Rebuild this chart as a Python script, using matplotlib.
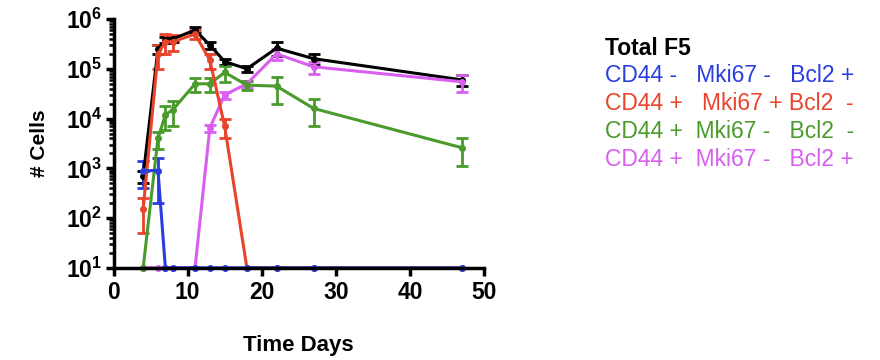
import matplotlib
matplotlib.use("Agg")
import matplotlib.pyplot as plt
from matplotlib.ticker import FixedLocator, LogLocator, NullFormatter

plt.rcParams['font.family'] = ['Liberation Sans', 'DejaVu Sans']
plt.rcParams['mathtext.fontset'] = 'custom'
plt.rcParams['mathtext.bf'] = 'Liberation Sans:bold'
plt.rcParams['mathtext.rm'] = 'Liberation Sans'

# sampling days
days = [4, 6, 7, 8, 11, 13, 15, 18, 22, 27, 47]

# cell counts per population (10 = below detection, drawn on the axis)
total_f5 = [700, 2.5e5, 3.8e5, 4.0e5, 6.0e5, 3.0e5, 1.4e5, 1.0e5, 2.6e5, 1.6e5, 6.0e4]
total_f5_err = [200, 5e4, 5e4, 5e4, 8e4, 5e4, 2e4, 1.5e4, 8e4, 4e4, 1.5e4]

cd44n_bcl2p = [900, 900, 10, 10, 10, 10, 10, 10, 10, 10, 10]
cd44n_bcl2p_err = [500, 700, 0, 0, 0, 0, 0, 0, 0, 0, 0]

cd44p_mki67p = [150, 2.0e5, 3.5e5, 3.5e5, 5.0e5, 1.5e5, 7000, 10, 10, 10, 10]
cd44p_mki67p_err = [100, 1e5, 1.5e5, 1.2e5, 1e5, 5e4, 3000, 0, 0, 0, 0]

cd44p_bcl2n = [10, 4000, 1.2e4, 1.5e4, 5.0e4, 5.0e4, 8.5e4, 4.7e4, 4.5e4, 1.6e4, 2600]
cd44p_bcl2n_err = [0, 1500, 6000, 8000, 1.5e4, 1.5e4, 3e4, 1e4, 2.5e4, 9000, 1500]

cd44p_bcl2p = [10, 10, 10, 10, 10, 6500, 3.0e4, 5.0e4, 2.0e5, 1.1e5, 5.5e4]
cd44p_bcl2p_err = [0, 0, 0, 0, 0, 1000, 5000, 8000, 5e4, 3e4, 2e4]

legend_rows = ["Total F5",
               "CD44 -   Mki67 -   Bcl2 +",
               "CD44 +   Mki67 + Bcl2  -",
               "CD44 +  Mki67 -   Bcl2  -",
               "CD44 +  Mki67 -   Bcl2 +"]

colors = {"black": "#000000", "blue": "#2a3ee0", "red": "#e8432b",
          "green": "#4a9a2c", "magenta": "#d95ff0"}

fig = plt.figure(figsize=(8.8, 3.6), dpi=100)
ax = fig.add_axes([0.129, 0.256, 0.421, 0.691])

series = [
    (total_f5, total_f5_err, colors["black"]),
    (cd44p_bcl2p, cd44p_bcl2p_err, colors["magenta"]),
    (cd44p_bcl2n, cd44p_bcl2n_err, colors["green"]),
    (cd44p_mki67p, cd44p_mki67p_err, colors["red"]),
    (cd44n_bcl2p, cd44n_bcl2p_err, colors["blue"]),
]
for vals, err, c in series:
    lines = ax.errorbar(days, vals, yerr=err, color=c, lw=2.2, marker='o', ms=4,
                        capsize=4, capthick=2, elinewidth=2, clip_on=False)
    for artist in lines.lines[1] + lines.lines[2]:
        artist.set_clip_on(False)

ax.set_yscale('log')
ax.set_ylim(10, 1e6)
ax.set_xlim(0, 50)
ax.xaxis.set_major_locator(FixedLocator([0, 10, 20, 30, 40, 50]))
ax.yaxis.set_major_locator(FixedLocator([10**i for i in range(1, 7)]))
ax.set_yticklabels([r'$\mathbf{10^{%d}}$' % i for i in range(1, 7)])
ax.yaxis.set_minor_locator(LogLocator(base=10, subs=range(2, 10)))
ax.yaxis.set_minor_formatter(NullFormatter())

for side in ['top', 'right']:
    ax.spines[side].set_visible(False)
for side in ['left', 'bottom']:
    ax.spines[side].set_linewidth(2.5)
ax.tick_params(which='major', direction='out', length=6, width=2.5, labelsize=16.5)
ax.tick_params(axis='y', which='major', pad=2)
ax.tick_params(which='minor', direction='out', length=3.5, width=1.8)
for lab in ax.get_xticklabels():
    lab.set_fontweight('bold')

ax.set_xlabel("Time Days", fontsize=16, fontweight='bold', labelpad=22)
ax.set_ylabel("# Cells", fontsize=15, fontweight='bold', labelpad=12)

row_colors = [colors["black"], colors["blue"], colors["red"], colors["green"], colors["magenta"]]
for i, (txt, c) in enumerate(zip(legend_rows, row_colors)):
    fig.text(0.687, 0.866 - i * 0.077, txt, color=c, fontsize=16.5,
             fontweight='bold' if i == 0 else 'normal', va='center', ha='left')

fig.savefig("out.png", dpi=100)
